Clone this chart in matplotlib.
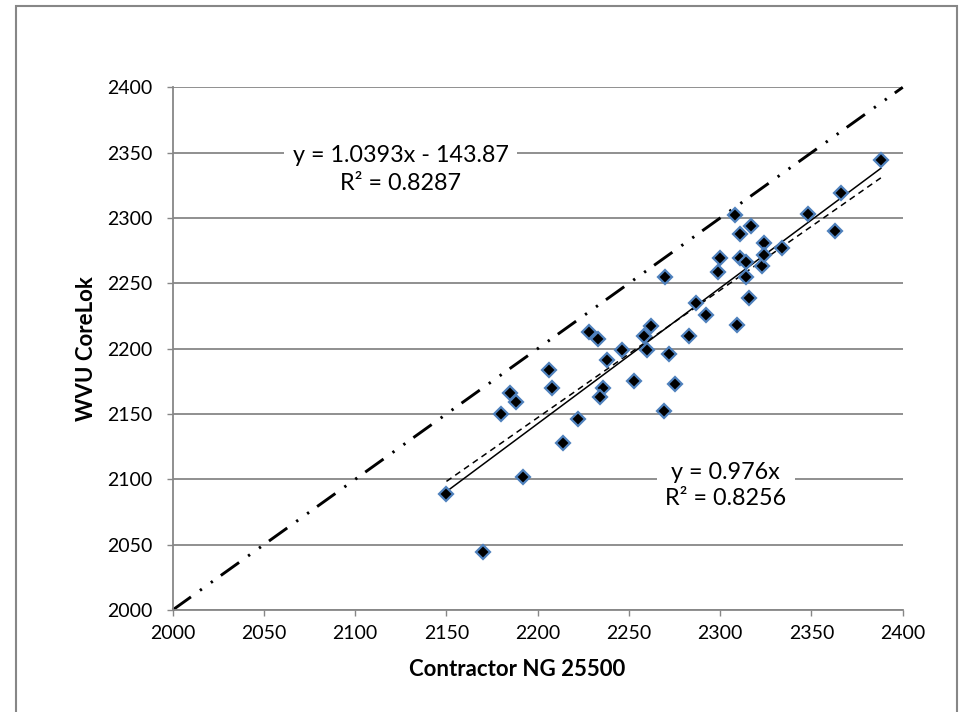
import numpy as np
import matplotlib
matplotlib.use("Agg")
import matplotlib.pyplot as plt
from matplotlib.patches import Rectangle

plt.rcParams['font.family'] = ['Lato', 'DejaVu Sans']

# density pairs: contractor gauge vs. WVU CoreLok
contractor = [2150, 2170, 2180, 2185, 2188, 2206, 2208, 2192, 2214, 2222,
              2236, 2234, 2228, 2233, 2238, 2246, 2258, 2262, 2260, 2272,
              2253, 2275, 2269, 2270, 2283, 2287, 2292, 2309, 2299, 2300,
              2311, 2317, 2311, 2314, 2314, 2323, 2324, 2316, 2324, 2334,
              2308, 2348, 2363, 2366, 2388]
corelok = [2089, 2044, 2150, 2166, 2159, 2184, 2170, 2102, 2128, 2146,
           2170, 2163, 2213, 2207, 2191, 2199, 2210, 2217, 2199, 2196,
           2175, 2173, 2152, 2255, 2210, 2235, 2226, 2218, 2259, 2269,
           2288, 2294, 2269, 2266, 2255, 2263, 2281, 2239, 2272, 2277,
           2302, 2303, 2290, 2319, 2344]

# fitted trend lines (slope, intercept)
fit_lin = (1.0393, -143.87)
fit_zero = (0.976, 0.0)
r2_lin = 0.8287
r2_zero = 0.8256

ticks = [2000, 2050, 2100, 2150, 2200, 2250, 2300, 2350, 2400]

grey = '#878787'

fig = plt.figure(figsize=(9.62, 7.12), dpi=100)
ax = fig.add_axes([0.1795, 0.1433, 0.7589, 0.7341])

# 1:1 reference line
ax.plot([ticks[0], ticks[-1]], [ticks[0], ticks[-1]], color='black', lw=2.1,
        dashes=(7.7, 3.8, 0.8, 3.8, 0.8, 3.4), clip_on=False, zorder=2)

xr = np.array([min(contractor), max(contractor)])
ax.plot(xr, fit_lin[0] * xr + fit_lin[1], color='black', lw=1.1, zorder=3)
ax.plot(xr, fit_zero[0] * xr + fit_zero[1], color='black', lw=1.1,
        dashes=(4, 3), zorder=3)

ax.plot(contractor, corelok, linestyle='none', marker='D', markersize=7,
        markerfacecolor='black', markeredgecolor='#4F81BD', markeredgewidth=1.6,
        zorder=4)

ax.set_xlim(ticks[0], ticks[-1])
ax.set_ylim(ticks[0], ticks[-1])
ax.set_xticks(ticks)
ax.set_yticks(ticks)
ax.yaxis.grid(True, color=grey, lw=1.3)
ax.set_axisbelow(True)
for s in ['top', 'right']:
    ax.spines[s].set_visible(False)
for s in ['left', 'bottom']:
    ax.spines[s].set_color(grey)
    ax.spines[s].set_linewidth(1.3)
ax.tick_params(axis='both', length=4.5, width=1.0, color=grey, labelsize=14)
ax.tick_params(axis='y', pad=10)
ax.tick_params(axis='x', pad=6)

ax.set_xlabel('Contractor NG 25500', fontsize=16, fontweight='bold')
ax.set_ylabel('WVU CoreLok', fontsize=16, fontweight='bold')
ax.xaxis.set_label_coords(0.4717, -0.093)
ax.yaxis.set_label_coords(-0.104, 0.5)

box = dict(facecolor='white', edgecolor='none', pad=6)
ax.text(2125, 2337, 'y = %.4fx - %.2f\nR² = %.4f' % (fit_lin[0], -fit_lin[1], r2_lin),
        ha='center', va='center', fontsize=16.8, linespacing=1.4, bbox=box, zorder=5)
ax.text(2303, 2095, 'y = %gx\nR² = %.4f' % (fit_zero[0], r2_zero),
        ha='center', va='center', fontsize=16.8, linespacing=1.3, bbox=box, zorder=5)

# chart border
fig.patches.append(Rectangle((0.0166, -0.02), 0.9785, 1.0116, transform=fig.transFigure,
                             fill=False, edgecolor=grey, lw=1.5))

fig.savefig('out.png', dpi=100)
